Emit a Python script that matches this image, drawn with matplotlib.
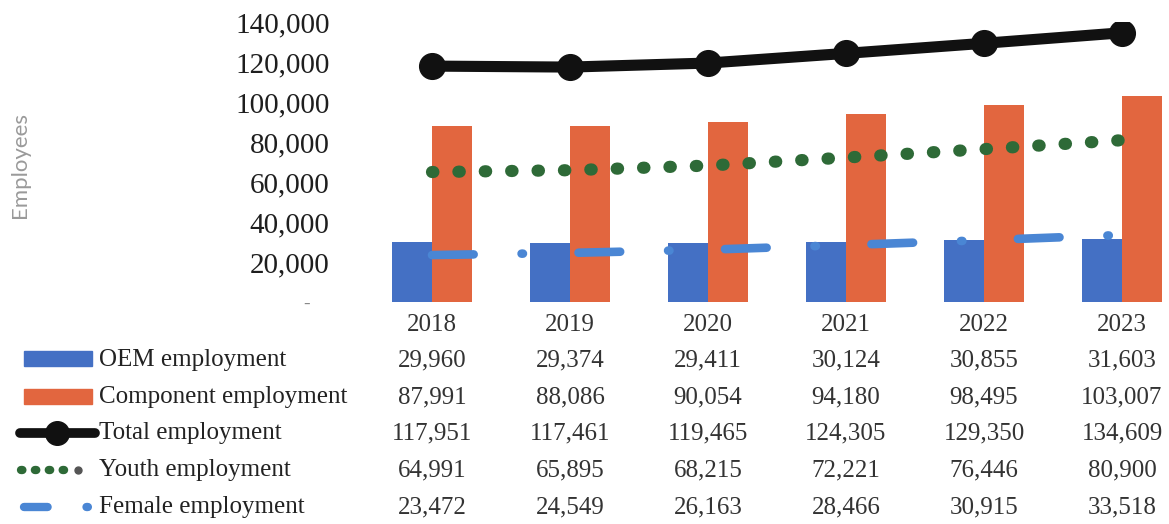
import matplotlib.pyplot as plt
import numpy as np
from matplotlib.lines import Line2D
from matplotlib.patches import Rectangle
from matplotlib.transforms import blended_transform_factory

years = ["2018", "2019", "2020", "2021", "2022", "2023"]
oem = [29960, 29374, 29411, 30124, 30855, 31603]
component = [87991, 88086, 90054, 94180, 98495, 103007]
total = [117951, 117461, 119465, 124305, 129350, 134609]
youth = [64991, 65895, 68215, 72221, 76446, 80900]
female = [23472, 24549, 26163, 28466, 30915, 33518]
y_ticks = [0, 20000, 40000, 60000, 80000, 100000, 120000, 140000]

series_names = ["OEM employment", "Component employment", "Total employment",
                "Youth employment", "Female employment"]

C_OEM = "#4470c4"
C_COMP = "#e2663f"
C_TOTAL = "#111111"
C_YOUTH = "#2e6a37"
C_FEMALE = "#4a86d4"

plt.rcParams["lines.scale_dashes"] = False
SERIF = "Liberation Serif"

W, H = 1169, 524
fig = plt.figure(figsize=(W / 100, H / 100), dpi=100)


def px(x, y):
    # pixel position (from top-left) -> figure fraction
    return x / W, 1 - y / H


ax_left, ax_top, ax_bottom = 363, 22, 302
step = 138
ax = fig.add_axes([ax_left / W, 1 - ax_bottom / H, (W - ax_left) / W,
                   (ax_bottom - ax_top) / H])

x = np.arange(len(years))
bw = 0.29
ax.bar(x - bw / 2, oem, bw, color=C_OEM, zorder=1)
ax.bar(x + bw / 2, component, bw, color=C_COMP, zorder=1)

ax.plot(x, female, color=C_FEMALE, lw=6.2, dash_capstyle="round",
        linestyle=(0, (30, 34.5, 1, 40)), zorder=3)
ax.plot(x, youth, color=C_YOUTH, lw=8.8, dash_capstyle="round",
        linestyle=(0, (1, 18)), zorder=4)
ax.plot(x, total, color=C_TOTAL, lw=8, marker="o", ms=18.5,
        solid_capstyle="round", zorder=5)

ax.set_xlim(-0.5, -0.5 + (W - ax_left) / step)
ax.set_ylim(0, 140000)
ax.set_xticks([])
ax.set_yticks(y_ticks)
ax.set_yticklabels([f"{v:,}" if v else "-    " for v in y_ticks],
                   family=SERIF, fontsize=21, color="#1e1e1e")
ax.get_yticklabels()[0].set_color("#888888")
ax.get_yticklabels()[0].set_fontsize(14)
ax.tick_params(axis="y", length=0, pad=24)
for s in ax.spines.values():
    s.set_visible(False)

fig.text(*px(20, 165), "Employees", rotation=90, ha="center", va="center",
         color="#9a9a9a", family="Lato", fontsize=16)

# data table below the plot
tr = blended_transform_factory(ax.transData, fig.transFigure)
row_y = [360, 397, 433, 470, 507]
for i, yr in enumerate(years):
    ax.text(i, 1 - 325 / H, yr, transform=tr, ha="center", va="center",
            family=SERIF, fontsize=18, color="#333333", clip_on=False)
rows = [oem, component, total, youth, female]
for ry, vals in zip(row_y, rows):
    for i, v in enumerate(vals):
        ax.text(i, 1 - ry / H, f"{v:,}", transform=tr, ha="center",
                va="center", family=SERIF, fontsize=18, color="#333333",
                clip_on=False)

for ry, name in zip(row_y, series_names):
    fig.text(*px(99, ry), name, ha="left", va="center", family=SERIF,
             fontsize=18, color="#222222")

# legend keys
ff = fig.transFigure
fig.add_artist(Rectangle(px(24, 366), 68 / W, 15 / H, color=C_OEM,
                         transform=ff))
fig.add_artist(Rectangle(px(24, 404), 68 / W, 15 / H, color=C_COMP,
                         transform=ff))
fig.add_artist(Line2D([20 / W, 95 / W], [1 - 433 / H] * 2, color=C_TOTAL,
                      lw=7, solid_capstyle="round", transform=ff))
fig.add_artist(Line2D([57 / W], [1 - 433 / H], color=C_TOTAL, marker="o",
                      ms=17, transform=ff))
fig.add_artist(Line2D([21 / W, 66 / W], [1 - 470 / H] * 2, color=C_YOUTH,
                      lw=6, dash_capstyle="round",
                      linestyle=(0, (1, 9)), transform=ff))
fig.add_artist(Line2D([78 / W], [1 - 470 / H], color="#555555", marker="o",
                      ms=5, transform=ff))
fig.add_artist(Line2D([24 / W, 92 / W], [1 - 507 / H] * 2, color=C_FEMALE,
                      lw=6, dash_capstyle="round",
                      linestyle=(0, (17, 28, 1, 100)), transform=ff))

fig.savefig("out.png", dpi=100)
